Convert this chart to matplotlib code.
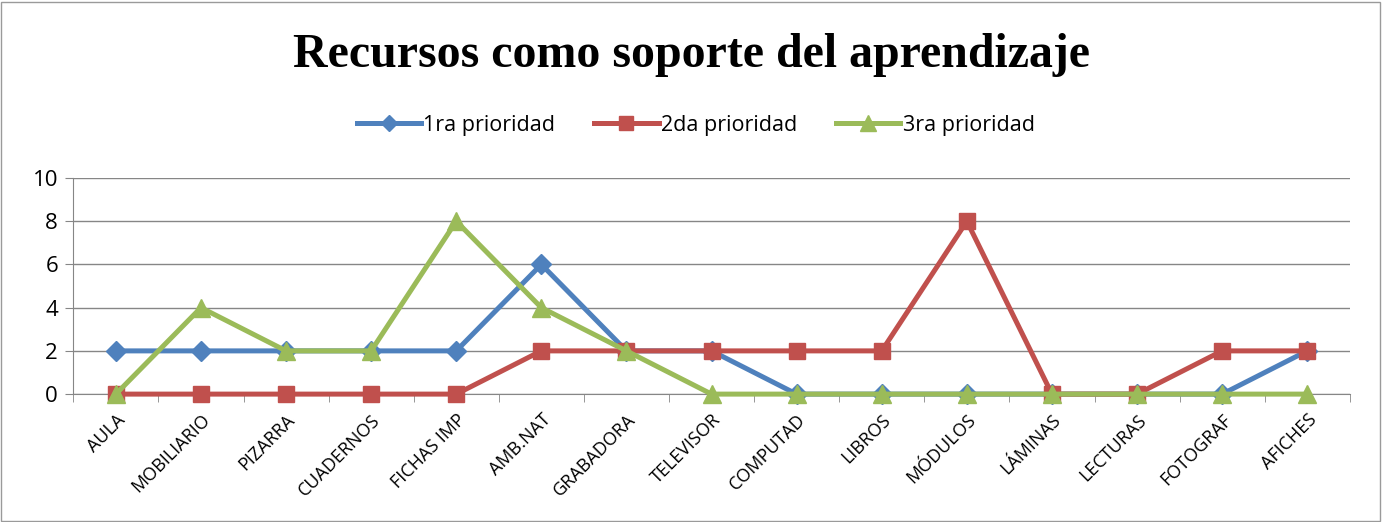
import matplotlib.pyplot as plt
from matplotlib.patches import Rectangle

categorias = ['AULA', 'MOBILIARIO', 'PIZARRA', 'CUADERNOS', 'FICHAS IMP', 'AMB.NAT',
              'GRABADORA', 'TELEVISOR', 'COMPUTAD', 'LIBROS', 'MÓDULOS', 'LÁMINAS',
              'LECTURAS', 'FOTOGRAF', 'AFICHES']
prioridad_1 = [2, 2, 2, 2, 2, 6, 2, 2, 0, 0, 0, 0, 0, 0, 2]
prioridad_2 = [0, 0, 0, 0, 0, 2, 2, 2, 2, 2, 8, 0, 0, 2, 2]
prioridad_3 = [0, 4, 2, 2, 8, 4, 2, 0, 0, 0, 0, 0, 0, 0, 0]

fig = plt.figure(figsize=(13.83, 5.22), dpi=100)
fig.patches.append(Rectangle((0.001, 0.002), 0.997, 0.995, transform=fig.transFigure,
                             fill=False, edgecolor='#9a9a9a', lw=1))
ax = fig.add_axes([0.053, 0.245, 0.923, 0.414])

x = list(range(len(categorias)))
ax.plot(x, prioridad_1, color='#4F81BD', lw=3.6, marker='D', ms=10, label='1ra prioridad',
        zorder=3, clip_on=False)
ax.plot(x, prioridad_2, color='#C0504D', lw=3.6, marker='s', ms=12, label='2da prioridad',
        zorder=4, clip_on=False)
ax.plot(x, prioridad_3, color='#9BBB59', lw=3.6, marker='^', ms=13, label='3ra prioridad',
        zorder=5, clip_on=False)

ax.set_xlim(-0.5, len(categorias) - 0.5)
ax.set_ylim(0, 10)
ax.set_yticks(range(0, 11, 2))
ax.set_yticklabels([str(v) for v in range(0, 11, 2)], fontsize=16, family='Open Sans')
ax.set_xticks(x)
ax.set_xticklabels(categorias, rotation=45, ha='right', rotation_mode='anchor',
                   fontsize=13, family='Open Sans')
ax.tick_params(axis='x', length=0, pad=12)
ax.set_xticks([i - 0.5 for i in range(len(categorias) + 1)], minor=True)
ax.tick_params(axis='x', which='minor', length=6, color='#868686')
ax.tick_params(axis='y', length=6, color='#868686', pad=5)
ax.grid(axis='y', color='#868686', lw=1)
ax.set_axisbelow(True)
for s in ['top', 'right']:
    ax.spines[s].set_visible(False)
for s in ['left', 'bottom']:
    ax.spines[s].set_color('#868686')

fig.text(0.5, 0.895, 'Recursos como soporte del aprendizaje', ha='center', va='center',
         fontsize=34.5, fontweight='bold', family='Liberation Serif')
fig.legend(loc='center', bbox_to_anchor=(0.503, 0.76), ncol=3, frameon=False,
           prop={'family': 'Open Sans', 'size': 15.5}, handlelength=3, columnspacing=1.8,
           handletextpad=0.1, markerscale=0.85)

fig.savefig('out.png', dpi=100)
